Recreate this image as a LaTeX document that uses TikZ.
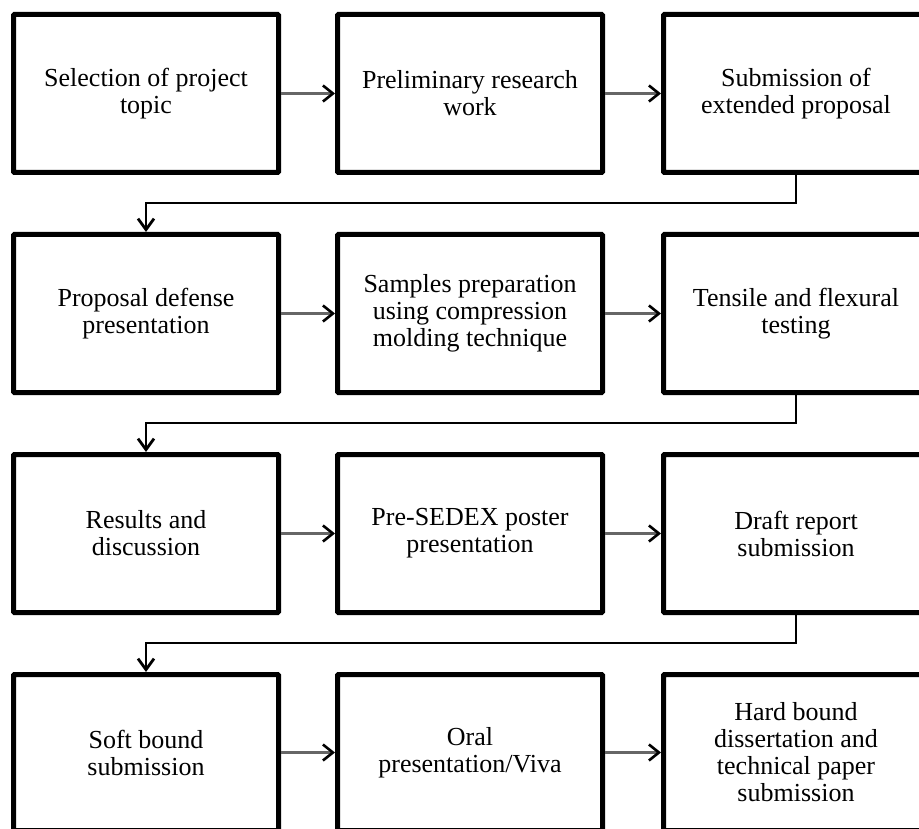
\documentclass[tikz,border=0pt]{standalone}
\usepackage{fontspec}
\setmainfont{Liberation Serif}
\usetikzlibrary{arrows.meta}

\tikzset{
  stage/.style={draw, line width=5pt, rounded corners=1pt,
    minimum width=265pt, minimum height=158pt, inner sep=0pt,
    align=center, font=\fontsize{26}{27}\selectfont},
  flow/.style={draw=black!60, line width=2.8pt,
    -{Straight Barb[length=10pt,width=16pt,line width=2.6pt,black]}},
  turn/.style={draw=black, line width=1.8pt,
    -{Straight Barb[length=11pt,width=16pt,line width=2.8pt]}},
}

\begin{document}
\begin{tikzpicture}[x=1pt,y=-1pt]
  \useasboundingbox (0,0) rectangle (919,829);
  \clip (0,0) rectangle (919,829);

  % row 1
  \node[stage] (topic)    at (146,93.5) {Selection of project\\topic};
  \node[stage] (prelim)   at (470,93.5) {Preliminary research\\work};
  \node[stage] (extended) at (796,93.5) {Submission of\\extended proposal};

  % row 2
  \node[stage] (defense)  at (146,313.5) {Proposal defense\\presentation};
  \node[stage] (samples)  at (470,313.5) {Samples preparation\\using compression\\molding technique};
  \node[stage] (testing)  at (796,313.5) {Tensile and flexural\\testing};

  % row 3
  \node[stage] (results)  at (146,533.5) {Results and\\discussion};
  \node[stage] (sedex)    at (470,533.5) {Pre-SEDEX poster\\presentation};
  \node[stage] (draft)    at (796,533.5) {Draft report\\submission};

  % row 4 (bottom edge runs off the page)
  \node[stage, minimum height=156pt] (softbound) at (146,752.5) {Soft bound\\submission};
  \node[stage, minimum height=156pt] (viva)      at (470,752.5) {Oral\\presentation/Viva};
  \node[stage, minimum height=156pt] (hardbound) at (796,752.5) {Hard bound\\dissertation and\\technical paper\\submission};

  % arrows along each row
  \draw[flow] (topic.east)     -- (prelim.west);
  \draw[flow] (prelim.east)    -- (extended.west);
  \draw[flow] (defense.east)   -- (samples.west);
  \draw[flow] (samples.east)   -- (testing.west);
  \draw[flow] (results.east)   -- (sedex.west);
  \draw[flow] (sedex.east)     -- (draft.west);
  \draw[flow] (softbound.east) -- (viva.west);
  \draw[flow] (viva.east)      -- (hardbound.west);

  % wrap to next row
  \draw[turn] (extended.south) -- ++(0,28) -| (defense.north);
  \draw[turn] (testing.south)  -- ++(0,28) -| (results.north);
  \draw[turn] (draft.south)    -- ++(0,28) -| (softbound.north);
\end{tikzpicture}
\end{document}
